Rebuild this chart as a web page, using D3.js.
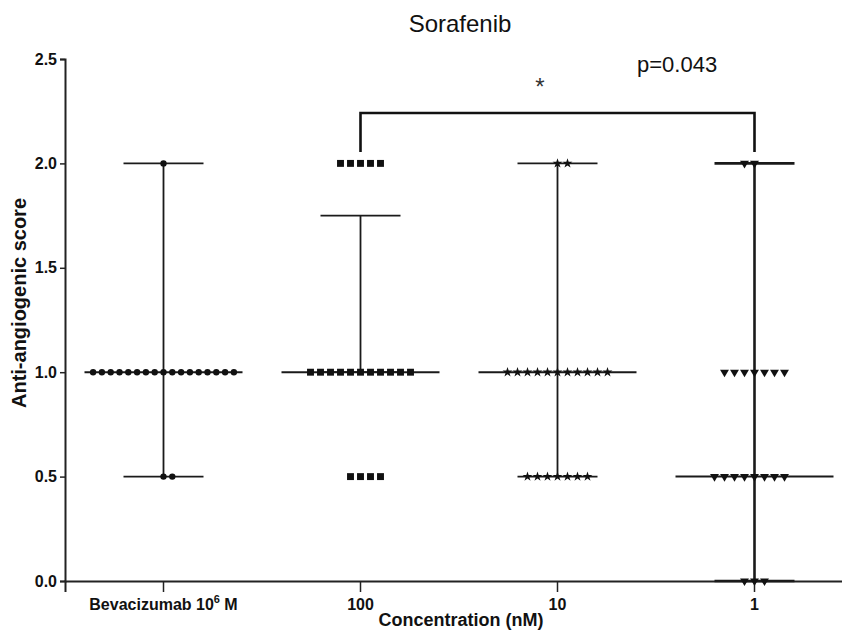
<!DOCTYPE html>
<html><head><meta charset="utf-8">
<script src="https://cdn.jsdelivr.net/npm/d3@7"></script>
<style>body{margin:0;background:#fff}svg{display:block}</style>
</head><body>
<script>
// ---- data ----
const categories = ["Bevacizumab", "100", "10", "1"];
const yTicks = [0.0, 0.5, 1.0, 1.5, 2.0, 2.5];
// individual scores
const scoresBev = [2.0, ...Array(17).fill(1.0), 0.5, 0.5];
const scores100 = [...Array(5).fill(2.0), ...Array(11).fill(1.0), ...Array(4).fill(0.5)];
const scores10  = [2.0, 2.0, ...Array(11).fill(1.0), ...Array(7).fill(0.5)];
const scores1   = [2.0, 2.0, ...Array(7).fill(1.0), ...Array(8).fill(0.5), 0.0, 0.0, 0.0];
// median and whisker (range / IQR) per group
const medians   = [1.0, 1.0, 1.0, 0.5];
const whiskerLo = [0.5, 1.0, 0.5, 0.0];
const whiskerHi = [2.0, 1.75, 2.0, 2.0];
const title = "Sorafenib";
const pText = "p=0.043";

const W = 842, H = 631;
const svg = d3.select("body").append("svg").attr("width", W).attr("height", H)
  .style("font-family", "'Liberation Sans', Arial, sans-serif");

const x = d3.scaleBand().domain(categories).range([65, 853]);
const y = d3.scaleLinear().domain([0, 2.5]).range([581, 59]);
const cx = c => x(c) + x.bandwidth() / 2;

// y axis
const yAxis = svg.append("g").attr("transform", "translate(65,0)")
  .call(d3.axisLeft(y).tickValues(yTicks).tickFormat(d3.format(".1f")).tickSizeOuter(0).tickSize(5));
yAxis.select(".domain").attr("stroke", "#222").attr("stroke-width", 2);
yAxis.selectAll(".tick line").attr("stroke", "#222").attr("stroke-width", 1.5);
yAxis.selectAll("text").attr("font-size", 16).attr("font-weight", "bold").attr("fill", "#111").attr("x", -8);

// x axis
const xAxis = svg.append("g").attr("transform", "translate(0,581)")
  .call(d3.axisBottom(x).tickSizeOuter(0).tickSize(11).tickFormat(() => ""));
xAxis.select(".domain").attr("stroke", "#222").attr("stroke-width", 2);
xAxis.selectAll(".tick line").attr("stroke", "#222").attr("stroke-width", 1.5);
xAxis.selectAll(".tick").each(function (d) {
  const t = d3.select(this).append("text").attr("y", 29).attr("text-anchor", "middle")
    .attr("font-size", 16).attr("font-weight", "bold").attr("fill", "#111");
  if (d === "Bevacizumab") {
    t.append("tspan").text("Bevacizumab 10");
    t.append("tspan").text("6").attr("font-size", 11).attr("dy", -7);
    t.append("tspan").text(" M").attr("dy", 7);
  } else t.text(d);
});

// axis titles
svg.append("text").attr("x", 461).attr("y", 626).attr("text-anchor", "middle")
  .attr("font-size", 18).attr("font-weight", "bold").attr("fill", "#111").text("Concentration (nM)");
svg.append("text").attr("transform", "translate(26,303) rotate(-90)").attr("text-anchor", "middle")
  .attr("font-size", 20).attr("font-weight", "bold").attr("fill", "#111").text("Anti-angiogenic score");
svg.append("text").attr("x", 460).attr("y", 32).attr("text-anchor", "middle")
  .attr("font-size", 24).attr("fill", "#111").text(title);

// whiskers, caps, medians
const capHalf = 40, medHalf = 79;
const groups = svg.append("g");
categories.forEach((c, i) => {
  const g = groups.append("g").attr("stroke", "#1a1a1a");
  const sw = i === 3 ? 2.6 : 1.8;
  g.append("line").attr("x1", cx(c)).attr("x2", cx(c)).attr("y1", y(whiskerLo[i])).attr("y2", y(whiskerHi[i])).attr("stroke-width", sw);
  [whiskerLo[i], whiskerHi[i]].forEach(v => {
    g.append("line").attr("x1", cx(c) - capHalf).attr("x2", cx(c) + capHalf).attr("y1", y(v)).attr("y2", y(v)).attr("stroke-width", sw);
  });
  g.append("line").attr("x1", cx(c) - medHalf).attr("x2", cx(c) + medHalf).attr("y1", y(medians[i])).attr("y2", y(medians[i])).attr("stroke-width", 2);
});

// points
const allScores = [scoresBev, scores100, scores10, scores1];
const spacing = [8.8, 10, 10, 10];
const evenShift = [1, 1, 1, -1];
const symbols = [
  d3.symbol().type(d3.symbolCircle).size(32),
  d3.symbol().type(d3.symbolSquare).size(48),
  d3.symbol().type(d3.symbolStar).size(30),
  d3.symbol().type(d3.symbolTriangle).size(34)
];
const pts = svg.append("g").attr("fill", "#111");
allScores.forEach((arr, gi) => {
  const byVal = d3.group(arr, v => v);
  byVal.forEach((vals, v) => {
    const n = vals.length;
    const start = evenShift[gi] > 0 ? -Math.floor((n - 1) / 2) : -Math.ceil((n - 1) / 2);
    vals.forEach((_, k) => {
      const px = cx(categories[gi]) + (start + k) * spacing[gi];
      pts.append("path").attr("d", symbols[gi]())
        .attr("transform", `translate(${px},${y(v)})` + (gi === 3 ? " rotate(180)" : ""));
    });
  });
});

// significance bracket
const bx1 = cx("100"), bx2 = cx("1"), by = 113, bBot = 152;
svg.append("path").attr("d", `M${bx1},${bBot}V${by}H${bx2}V${bBot}`)
  .attr("fill", "none").attr("stroke", "#111").attr("stroke-width", 2.6);
svg.append("text").attr("x", 540).attr("y", 95).attr("text-anchor", "middle")
  .attr("font-size", 24).attr("fill", "#333").text("*");
svg.append("text").attr("x", 637).attr("y", 72)
  .attr("font-size", 22).attr("fill", "#111").text(pText);
</script>
</body></html>
